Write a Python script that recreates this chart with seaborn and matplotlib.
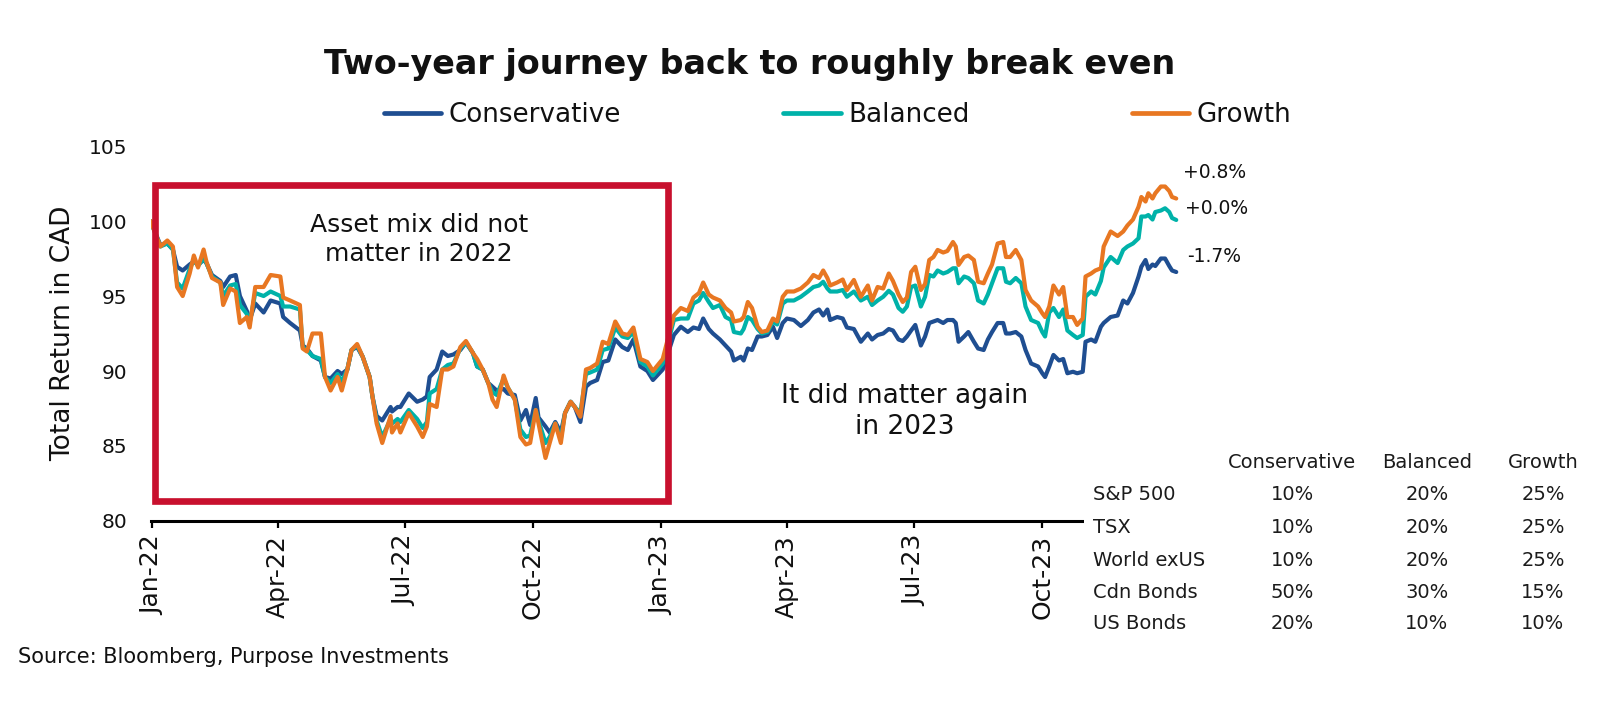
import matplotlib
matplotlib.use("Agg")
import matplotlib.pyplot as plt
import matplotlib.dates as mdates
from matplotlib.lines import Line2D
from matplotlib.patches import Rectangle
import pandas as pd
import seaborn as sns

# ---------------- data ----------------
dates = [
    "2021-12-31", "2022-01-07", "2022-01-12", "2022-01-16", "2022-01-19", "2022-01-23",
    "2022-01-28", "2022-01-31", "2022-02-03", "2022-02-07", "2022-02-09", "2022-02-13",
    "2022-02-19", "2022-02-21", "2022-02-26", "2022-03-02", "2022-03-05", "2022-03-10",
    "2022-03-12", "2022-03-16", "2022-03-22", "2022-03-27", "2022-04-03", "2022-04-05",
    "2022-04-10", "2022-04-17", "2022-04-19", "2022-04-22", "2022-04-26", "2022-05-02",
    "2022-05-05", "2022-05-09", "2022-05-14", "2022-05-17", "2022-05-21", "2022-05-24",
    "2022-05-28", "2022-06-01", "2022-06-06", "2022-06-08", "2022-06-11", "2022-06-15",
    "2022-06-21", "2022-06-22", "2022-06-26", "2022-06-28", "2022-07-04", "2022-07-10",
    "2022-07-14", "2022-07-17", "2022-07-19", "2022-07-24", "2022-07-28", "2022-08-01",
    "2022-08-05", "2022-08-10", "2022-08-14", "2022-08-19", "2022-08-22", "2022-08-26",
    "2022-08-30", "2022-09-02", "2022-09-05", "2022-09-10", "2022-09-13", "2022-09-18",
    "2022-09-22", "2022-09-26", "2022-09-29", "2022-10-03", "2022-10-05", "2022-10-10",
    "2022-10-13", "2022-10-17", "2022-10-21", "2022-10-24", "2022-10-28", "2022-10-31",
    "2022-11-04", "2022-11-08", "2022-11-11", "2022-11-16", "2022-11-20", "2022-11-24",
    "2022-11-29", "2022-12-04", "2022-12-08", "2022-12-12", "2022-12-17", "2022-12-22",
    "2022-12-26", "2023-01-02", "2023-01-10", "2023-01-15", "2023-01-20", "2023-01-24",
    "2023-01-28", "2023-01-31", "2023-02-04", "2023-02-07", "2023-02-12", "2023-02-16",
    "2023-02-20", "2023-02-22", "2023-02-27", "2023-03-01", "2023-03-04", "2023-03-07",
    "2023-03-11", "2023-03-14", "2023-03-18", "2023-03-22", "2023-03-25", "2023-03-29",
    "2023-04-01", "2023-04-06", "2023-04-11", "2023-04-16", "2023-04-20", "2023-04-24",
    "2023-04-27", "2023-04-30", "2023-05-02", "2023-05-07", "2023-05-11", "2023-05-14",
    "2023-05-19", "2023-05-24", "2023-05-29", "2023-06-01", "2023-06-05", "2023-06-09",
    "2023-06-13", "2023-06-16", "2023-06-20", "2023-06-23", "2023-06-26", "2023-06-29",
    "2023-07-02", "2023-07-06", "2023-07-09", "2023-07-12", "2023-07-15", "2023-07-18",
    "2023-07-22", "2023-07-25", "2023-07-29", "2023-07-31", "2023-08-02", "2023-08-06",
    "2023-08-09", "2023-08-13", "2023-08-16", "2023-08-20", "2023-08-23", "2023-08-26",
    "2023-08-30", "2023-09-03", "2023-09-05", "2023-09-08", "2023-09-12", "2023-09-16",
    "2023-09-19", "2023-09-23", "2023-09-28", "2023-10-01", "2023-10-03", "2023-10-06",
    "2023-10-09", "2023-10-13", "2023-10-16", "2023-10-19", "2023-10-23", "2023-10-26",
    "2023-10-30", "2023-11-01", "2023-11-05", "2023-11-08", "2023-11-12", "2023-11-14",
    "2023-11-19", "2023-11-24", "2023-11-28", "2023-12-01", "2023-12-05", "2023-12-09",
    "2023-12-11", "2023-12-14", "2023-12-16", "2023-12-19", "2023-12-21", "2023-12-25",
    "2023-12-28", "2023-12-31", "2024-01-02", "2024-01-05",
]

conservative = [
    100.0, 98.4, 98.5, 98.1, 96.95, 96.7,
    97.1, 97.3, 97.1, 97.4, 97.2, 96.4,
    96.0, 95.6, 96.3, 96.4, 95.0, 94.0,
    93.4, 94.5, 93.9, 94.7, 94.5, 93.6,
    93.2, 92.7, 91.7, 91.5, 91.0, 90.7,
    89.6, 89.5, 90.0, 89.8, 90.1, 91.4,
    91.6, 90.95, 89.6, 88.3, 87.0, 86.7,
    87.6, 87.3, 87.6, 87.6, 88.5, 87.95,
    88.1, 88.3, 89.6, 90.1, 91.3, 91.0,
    91.1, 91.4, 91.9, 91.2, 90.3, 90.1,
    89.2, 88.95, 88.7, 88.8, 88.5, 88.4,
    86.7, 87.4, 86.4, 88.2, 86.9, 86.3,
    85.9, 86.6, 85.9, 87.2, 87.95, 87.6,
    86.6, 88.95, 89.2, 89.4, 90.6, 90.7,
    92.1, 91.6, 91.4, 92.1, 90.3, 90.0,
    89.4, 90.1, 92.4, 92.95, 92.6, 92.9,
    92.8, 93.5, 92.8, 92.5, 92.1, 91.7,
    91.3, 90.7, 90.95, 90.7, 91.5, 91.4,
    92.3, 92.3, 92.4, 92.95, 92.2, 93.2,
    93.5, 93.4, 93.0, 93.4, 93.9, 94.1,
    93.7, 94.1, 93.4, 93.6, 93.5, 92.9,
    92.8, 91.95, 92.5, 92.1, 92.4, 92.5,
    92.8, 92.7, 92.1, 92.0, 92.3, 92.7,
    93.07, 91.7, 92.3, 93.2, 93.3, 93.4,
    93.2, 93.4, 93.4, 93.2, 91.95, 92.3,
    92.6, 91.95, 91.5, 91.4, 92.1, 92.6,
    93.2, 93.2, 92.5, 92.5, 92.6, 92.3,
    91.4, 90.5, 90.3, 89.85, 89.6, 90.3,
    91.07, 90.7, 90.8, 89.85, 89.95, 89.85,
    89.95, 91.95, 92.1, 91.95, 92.95, 93.2,
    93.6, 93.7, 94.7, 94.5, 95.2, 96.3,
    96.95, 97.4, 96.8, 97.1, 97.0, 97.5,
    97.5, 97.0, 96.7, 96.6,
]

balanced = [
    100.0, 98.3, 98.5, 98.1, 95.9, 95.5,
    96.8, 97.4, 97.0, 97.5, 97.2, 96.3,
    95.9, 95.0, 95.7, 95.8, 94.4, 93.8,
    93.2, 95.2, 95.0, 95.3, 95.0, 94.3,
    94.3, 94.1, 91.6, 91.4, 91.0, 90.8,
    89.6, 89.2, 89.8, 89.3, 90.1, 91.4,
    91.7, 90.95, 89.6, 88.3, 86.7, 85.6,
    86.8, 86.5, 86.8, 86.6, 87.4, 86.8,
    86.2, 86.6, 88.5, 88.8, 90.1, 90.4,
    90.5, 91.5, 91.9, 91.2, 90.3, 90.1,
    89.2, 88.6, 88.4, 89.5, 88.9, 88.1,
    86.1, 85.6, 85.7, 87.4, 86.7, 85.2,
    85.6, 86.5, 85.5, 87.2, 87.95, 87.6,
    87.2, 89.8, 89.9, 90.1, 91.4, 91.5,
    92.9, 92.3, 92.2, 92.6, 90.6, 90.3,
    89.7, 90.5, 93.4, 93.5, 93.5, 94.5,
    94.7, 95.2, 94.6, 94.2, 94.4, 93.6,
    93.4, 92.6, 92.5, 92.8, 93.6, 93.4,
    92.8, 92.5, 92.6, 93.3, 93.1, 94.5,
    94.7, 94.7, 94.95, 95.3, 95.6, 95.7,
    95.95, 95.5, 95.3, 95.3, 95.4, 94.95,
    95.3, 94.7, 94.95, 94.4, 94.7, 94.95,
    95.35, 95.1, 94.2, 93.95, 94.3, 95.6,
    95.7, 94.3, 94.95, 96.4, 96.3, 96.7,
    96.5, 96.6, 96.85, 96.85, 95.85, 96.3,
    96.2, 95.85, 94.7, 94.5, 95.1, 95.85,
    96.85, 96.85, 95.95, 95.85, 96.2, 95.85,
    94.3, 93.4, 93.2, 92.6, 92.3, 93.9,
    94.2, 93.6, 94.1, 92.7, 92.4, 92.2,
    92.4, 94.95, 95.3, 95.1, 96.0, 96.9,
    97.6, 97.2, 98.07, 98.3, 98.5, 98.85,
    100.3, 100.3, 100.4, 100.1, 100.6, 100.7,
    100.85, 100.6, 100.2, 100.07,
]

growth = [
    100.0, 98.3, 98.7, 98.3, 95.6, 95.0,
    96.5, 97.7, 96.9, 98.1, 97.3, 96.2,
    95.9, 94.4, 95.5, 95.3, 93.2, 93.6,
    92.9, 95.6, 95.6, 96.4, 96.3, 94.9,
    94.7, 94.4, 91.5, 91.3, 92.5, 92.5,
    89.6, 88.7, 89.6, 88.7, 90.1, 91.4,
    91.8, 90.95, 89.6, 88.3, 86.5, 85.2,
    87.0, 85.9, 86.5, 85.9, 87.2, 86.3,
    85.6, 86.3, 87.8, 87.6, 90.1, 90.1,
    90.3, 91.6, 92.0, 91.2, 90.8, 90.1,
    89.2, 88.1, 87.6, 89.7, 88.9, 88.1,
    85.6, 85.1, 85.2, 87.4, 86.5, 84.2,
    85.2, 86.5, 85.2, 87.2, 87.95, 87.6,
    86.95, 90.1, 90.2, 90.5, 91.95, 91.8,
    93.3, 92.5, 92.4, 92.9, 90.8, 90.6,
    90.0, 90.8, 93.7, 94.2, 94.0, 94.9,
    95.2, 95.9, 95.1, 94.9, 94.7, 94.2,
    93.9, 93.3, 93.4, 93.6, 94.6, 94.2,
    92.95, 92.6, 92.7, 93.5, 93.3, 94.95,
    95.3, 95.3, 95.5, 95.9, 96.4, 96.2,
    96.7, 96.2, 95.7, 95.9, 96.1, 95.4,
    96.07, 94.95, 95.7, 94.7, 95.6, 95.5,
    96.5, 96.0, 95.1, 94.6, 94.9, 96.6,
    96.95, 95.4, 95.8, 97.4, 97.6, 98.07,
    97.9, 98.0, 98.6, 98.3, 97.07, 97.6,
    97.7, 97.4, 95.95, 95.85, 96.5, 97.1,
    98.5, 98.6, 97.6, 97.6, 98.07, 97.4,
    95.4, 94.7, 94.3, 93.85, 93.6, 94.3,
    95.7, 95.1, 95.6, 93.6, 93.6, 93.07,
    93.5, 96.3, 96.5, 96.7, 96.85, 98.3,
    99.3, 99.0, 99.3, 99.7, 100.1, 100.95,
    101.6, 101.3, 101.85, 101.5, 101.85, 102.3,
    102.3, 102.0, 101.6, 101.5,
]

series_names = ["Conservative", "Balanced", "Growth"]
series_colors = ["#1F4E91", "#00B2A9", "#E87722"]
end_labels = ["-1.7%", "+0.0%", "+0.8%"]

tick_dates = ["2022-01-01", "2022-04-01", "2022-07-01", "2022-10-01",
              "2023-01-01", "2023-04-01", "2023-07-01", "2023-10-01"]
tick_labels = ["Jan-22", "Apr-22", "Jul-22", "Oct-22",
               "Jan-23", "Apr-23", "Jul-23", "Oct-23"]
y_ticks = [80, 85, 90, 95, 100, 105]

table_cols = ["Conservative", "Balanced", "Growth"]
table_rows = ["S&P 500", "TSX", "World exUS", "Cdn Bonds", "US Bonds"]
table_vals = [
    ["10%", "20%", "25%"],
    ["10%", "20%", "25%"],
    ["10%", "20%", "25%"],
    ["50%", "30%", "15%"],
    ["20%", "10%", "10%"],
]

# ---------------- build long-form frame ----------------
wide = pd.DataFrame({
    "Date": pd.to_datetime(dates),
    "Conservative": conservative,
    "Balanced": balanced,
    "Growth": growth,
})
df = wide.melt(id_vars="Date", var_name="Portfolio", value_name="Value")

sns.set_theme(style="white")
plt.rcParams["font.family"] = ["DejaVu Sans"]
TXT = "#111111"

fig = plt.figure(figsize=(16.14, 7.2), dpi=100)
fig.patch.set_facecolor("white")
ax = fig.add_axes([0.0933, 0.2764, 0.6372, 0.5208])

sns.lineplot(data=df, x="Date", y="Value", hue="Portfolio",
             hue_order=series_names, palette=dict(zip(series_names, series_colors)),
             linewidth=3.0, estimator=None, legend=False, ax=ax)

ax.set_xlim(pd.Timestamp("2021-12-31"), pd.Timestamp("2024-01-07"))
ax.set_ylim(80, 105)
ax.set_xlabel("")
ax.set_ylabel("")

ax.set_xticks(pd.to_datetime(tick_dates))
ax.set_xticklabels(tick_labels, rotation=90, fontsize=18, color=TXT)
ax.set_yticks(y_ticks)
ax.set_yticklabels([str(v) for v in y_ticks], fontsize=14.5, color=TXT)
ax.tick_params(axis="x", direction="out", length=5, width=1.6, color="black", pad=5,
               bottom=True)
ax.tick_params(axis="y", length=0, pad=17)
for s in ["top", "right", "left"]:
    ax.spines[s].set_visible(False)
ax.spines["bottom"].set_color("black")
ax.spines["bottom"].set_linewidth(2.2)
ax.grid(False)

# red box highlighting 2022
x0 = mdates.date2num(pd.Timestamp("2022-01-03"))
x1 = mdates.date2num(pd.Timestamp("2023-01-06"))
ax.add_patch(Rectangle((x0, 81.33), x1 - x0, 102.4 - 81.33, fill=False,
                       edgecolor="#C8102E", linewidth=4.8, zorder=6, clip_on=False))

# annotations
fig.text(0.2596, 0.6674, "Asset mix did not\nmatter in 2022", ha="center", va="center",
         fontsize=18, color=TXT, linespacing=1.25)
fig.text(0.5607, 0.4280, "It did matter again\nin 2023", ha="center", va="center",
         fontsize=19, color=TXT, linespacing=1.25)

# end labels
fig.text(0.7330, 0.7611, end_labels[2], ha="left", va="center", fontsize=13.5, color=TXT)
fig.text(0.7342, 0.7111, end_labels[1], ha="left", va="center", fontsize=13.5, color=TXT)
fig.text(0.7354, 0.6431, end_labels[0], ha="left", va="center", fontsize=13.5, color=TXT)

# y label
fig.text(0.039, 0.5368, "Total Return in CAD", rotation=90, ha="center", va="center",
         fontsize=19, color=TXT)

# title
fig.text(0.4647, 0.911, "Two-year journey back to roughly break even", ha="center",
         va="center", fontsize=24, fontweight="bold", color=TXT)

# legend
handles = [Line2D([0], [0], color=c, linewidth=3.4) for c in series_colors]
fig.legend(handles, series_names, loc="center", bbox_to_anchor=(0.519, 0.840), ncol=3,
           frameon=False, fontsize=18.8, handlelength=2.2, handletextpad=0.3,
           columnspacing=6.2, labelcolor=TXT)

# allocation table (sits on a white panel, like a pasted table image)
fig.add_artist(Rectangle((0.6716, 0.10), 0.33, 0.285, transform=fig.transFigure,
                         facecolor="white", edgecolor="none", zorder=10))
col_x = [0.8005, 0.8841, 0.9560]
row_y = [0.3125, 0.2667, 0.2222, 0.1764, 0.1347]
tcol = "#1b1b1b"
for cx, name in zip(col_x, table_cols):
    fig.text(cx, 0.357, name, ha="center", va="center", fontsize=14, color=tcol, zorder=11)
for ry, rname, vals in zip(row_y, table_rows, table_vals):
    fig.text(0.6772, ry, rname, ha="left", va="center", fontsize=14, color=tcol, zorder=11)
    for cx, v in zip(col_x, vals):
        fig.text(cx, ry, v, ha="center", va="center", fontsize=14, color=tcol, zorder=11)

# source
fig.text(0.0112, 0.0875, "Source: Bloomberg, Purpose Investments", ha="left", va="center",
         fontsize=15, color=TXT)

fig.savefig("out.png", dpi=100, facecolor="white")
